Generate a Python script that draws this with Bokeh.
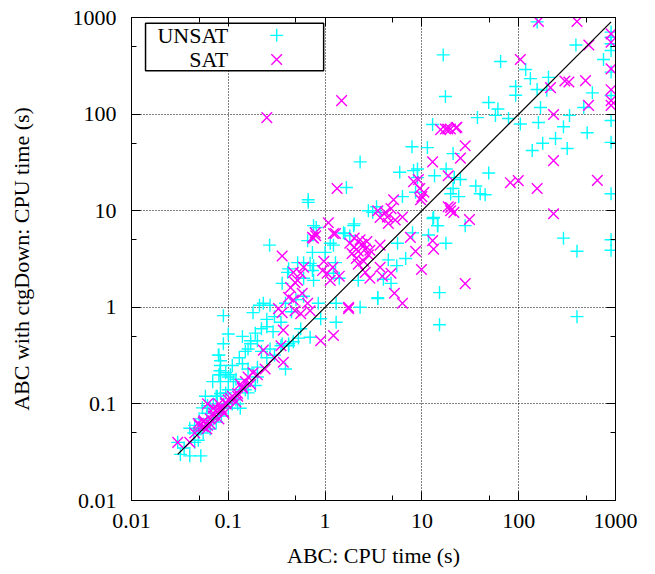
import math
from bokeh.plotting import figure
from bokeh.models import FixedTicker, PrintfTickFormatter, LogAxis
from bokeh.core.properties import value
from bokeh.embed import file_html
from bokeh.resources import INLINE

# ---------------- data ----------------
unsat = [
    (155, 900), (390, 520), (16.6, 410), (65, 350), (118, 290), (132, 233), (203, 240), (155, 180),
    (195, 177), (93, 193), (93, 157), (577, 166), (17.5, 152), (49, 132), (470, 117), (168, 117),
    (61, 113), (335, 97), (37.5, 92), (57.5, 97), (78.5, 90), (104, 79), (160, 82), (290, 74),
    (510, 64), (12.9, 78), (7.9, 46), (11.4, 45), (138, 42), (177, 50), (240, 56), (317, 44),
    (5.9, 25), (8.2, 26), (49, 24.6), (40, 15), (45, 14.6), (36, 18), (752, 367),
    (900, 706), (900, 625), (900, 534), (900, 455), (900, 272), (900, 156), (900, 86), (900, 51),
    (900, 15), (900, 5.0), (900, 3.9),
    (2.3, 32), (9.0, 27), (9.0, 22), (13.5, 23), (17.8, 27), (21.6, 22), (21, 39), (25, 21),
    (1.66, 17.4), (8.6, 15.5), (6.3, 14), (19.8, 15), (21, 17), (24, 14), (13.2, 8.5), (14.5, 7),
    (11.7, 5.6), (17.7, 4.6), (8.0, 5.9), (2.8, 10), (1.97, 7), (1.55, 5.9), (3.4, 11), (28, 7),
    (13, 8.3), (14.6, 7), (290, 5.2), (400, 3.8), (400, 0.8), (15.2, 1.42), (15.2, 0.66),
    (3.5, 1.26), (4.8, 1.77), (4.0, 1.95), (6.8, 3.2), (5.5, 2.7), (4.5, 3.1), (5.6, 4.6),
    (0.267, 4.4), (0.66, 4.9), (1.6, 5.8), (1.8, 5.5), (1.13, 4.6), (1.22, 4.4), (0.74, 3.7),
    (0.6, 2.9), (0.7, 2.85), (0.42, 2.5), (0.36, 1.77), (0.23, 1.1), (0.27, 1.05), (0.18, 0.88),
    (0.85, 1.1), (0.9, 0.76), (1.3, 0.7), (0.7, 0.49), (0.56, 0.6), (0.53, 0.48), (0.17, 0.45),
    (0.16, 0.37), (0.19, 0.54), (0.22, 0.6), (0.25, 0.63), (0.29, 0.56), (0.36, 0.42), (0.42, 0.4),
    (0.47, 0.44), (2.2, 1.9), (1.3, 1.1), (0.67, 13), (0.67, 12.2), (0.76, 7), (0.81, 6.7),
    (2.0, 7.3), (3.1, 9.6), (3.7, 9.6), (3.5, 1.23), (2.3, 1.0), (1.0, 3.7), (0.76, 2.7),
    (0.74, 2.4), (0.6, 2.0), (0.76, 1.9), (1.22, 2.25), (1.4, 2.0), (1.28, 2.9), (0.39, 1.1),
    (0.41, 2.3), (0.52, 2.9),
    (0.089, 0.42), (0.17, 0.42), (0.079, 0.32), (0.083, 0.25), (0.082, 0.22), (0.08, 0.2),
    (0.083, 0.17), (0.069, 0.17), (0.094, 0.21), (0.105, 0.2), (0.113, 0.17), (0.14, 0.26),
    (0.16, 0.23), (0.35, 0.4), (0.42, 0.42), (0.39, 0.23), (0.16, 0.13), (0.032, 0.03),
    (0.04, 0.029), (0.049, 0.042), (0.04, 0.056), (0.049, 0.053), (0.058, 0.12), (0.089, 0.82),
    (0.1, 0.53), (0.08, 0.32), (0.083, 0.28),
    (0.035, 0.035), (0.045, 0.04), (0.05, 0.055), (0.055, 0.05), (0.06, 0.06), (0.065, 0.055),
    (0.07, 0.07), (0.075, 0.065), (0.08, 0.08), (0.085, 0.075), (0.09, 0.1), (0.1, 0.09),
    (0.11, 0.1), (0.12, 0.11), (0.13, 0.14), (0.15, 0.14), (0.06, 0.08), (0.045, 0.06),
    (0.05, 0.07), (0.065, 0.09), (0.07, 0.1), (0.075, 0.12), (0.1, 0.14), (0.12, 0.18),
    (0.2, 0.24), (0.25, 0.3), (0.3, 0.32), (0.22, 0.35), (0.27, 0.37), (0.13, 0.3), (0.11, 0.25),
    (0.21, 1.05), (0.3, 0.8), (0.35, 0.7), (0.25, 0.75), (0.45, 0.9), (0.5, 1.2), (0.6, 1.3),
    (0.15, 0.35), (0.2, 0.45), (0.14, 0.5),
    (0.03, 0.04), (0.052, 0.029), (0.044, 0.05), (0.052, 0.055), (0.061, 0.096), (0.054, 0.091),
    (0.077, 0.12), (0.083, 0.128), (0.094, 0.13), (0.125, 0.1), (0.133, 0.09), (0.083, 0.2),
    (0.1, 0.19), (0.19, 0.155), (0.2, 0.19),
]

sat = [
    (160, 910), (400, 910), (900, 677), (900, 555), (900, 294), (900, 179), (900, 138), (900, 123),
    (530, 520), (104, 367), (213, 188), (300, 220), (330, 215), (490, 222), (527, 123), (229, 99),
    (15.6, 69), (17.5, 70), (19.7, 70), (22.5, 72), (229, 33), (650, 20.6), (155, 17), (82, 19.5),
    (99, 20.5), (0.25, 92), (1.48, 138),
    (18.5, 70), (23, 73), (12.9, 32), (8.2, 20), (9.2, 21), (18.7, 23), (25, 35), (28, 47),
    (9.5, 17), (10.5, 15.5), (10, 14), (9.7, 13), (5.1, 13), (4.8, 10.5), (4.4, 8.6), (5.3, 8.0),
    (6.3, 8.6), (19.8, 10.8), (21.4, 9.6), (3.5, 10), (19.8, 10), (18.7, 11), (31, 8.1),
    (12.9, 4.9), (13.2, 4.0), (229, 9.3), (28, 1.76), (9.9, 2.46), (6.3, 1.1), (5.2, 1.4),
    (4.8, 2.25), (3.9, 2.1), (8.6, 3.8), (7.6, 5.3), (3.7, 4.4),
    (0.36, 3.4), (0.8, 5.5), (0.74, 5.3), (1.28, 5.8), (1.33, 17), (1.08, 7.5), (1.22, 5.8),
    (0.79, 5.9), (0.76, 5.2),
    (1.8, 4.6), (2.0, 4.2), (2.2, 3.8), (2.4, 4.5), (2.6, 4.0), (2.8, 3.5), (2.1, 3.2), (2.5, 3.0),
    (1.9, 3.6), (2.3, 5.0), (2.7, 4.8), (2.9, 3.9), (2.0, 5.2),
    (3.7, 8.5), (4.2, 9.6), (4.5, 7.4), (3.7, 2.6), (1.75, 1.0), (1.22, 0.51), (0.9, 0.45),
    (0.94, 2.4), (1.05, 2.25), (1.13, 1.9), (0.97, 3.0), (0.56, 2.25), (0.44, 1.6), (0.49, 1.8),
    (0.52, 1.9), (0.58, 1.4), (0.6, 2.6), (0.47, 2.3), (0.42, 1.27), (0.47, 1.19), (0.33, 0.97),
    (0.36, 0.88), (0.49, 0.92), (0.56, 0.86), (0.66, 1.1), (0.7, 0.92), (1.75, 0.97), (0.37, 0.58),
    (2.2, 2.8), (2.6, 2.3), (2.9, 2.0), (1.2, 2.6), (1.4, 2.1),
    (0.23, 0.36), (0.15, 0.17), (0.24, 0.23), (0.37, 0.27), (0.125, 0.12), (0.03, 0.04),
    (0.04, 0.04), (0.061, 0.1),
    (0.045, 0.05), (0.05, 0.06), (0.055, 0.065), (0.06, 0.055), (0.065, 0.07), (0.07, 0.075),
    (0.075, 0.085), (0.08, 0.07), (0.085, 0.09), (0.09, 0.08), (0.095, 0.1), (0.1, 0.11),
    (0.11, 0.12), (0.12, 0.105), (0.14, 0.15), (0.17, 0.16), (0.2, 0.2), (0.07, 0.09),
    (0.08, 0.1), (0.055, 0.058), (0.065, 0.062), (0.3, 0.3), (0.35, 0.4),
    (0.049, 0.063), (0.056, 0.067), (0.061, 0.06), (0.07, 0.08), (0.077, 0.089), (0.087, 0.085),
    (0.094, 0.103), (0.105, 0.114), (0.125, 0.128), (0.14, 0.145), (0.133, 0.16), (0.16, 0.19),
    (0.18, 0.21),
]

diag = [0.03, 900]
major_ticks = [0.01, 0.1, 1, 10, 100, 1000]
minor_ticks = [0.05, 0.5, 5, 50, 500]
series_names = ["UNSAT", "SAT"]
x_title = "ABC: CPU time (s)"
y_title = "ABC with ctgDown: CPU time (s)"

unsat_x = [a for a, b in unsat]
unsat_y = [b for a, b in unsat]
sat_x = [a for a, b in sat]
sat_y = [b for a, b in sat]

# ---------------- figure ----------------
XMIN, XMAX, YMIN, YMAX = 0.01, 1000, 0.01, 1000
FONT = "Liberation Serif"
FS = "22px"
CYAN = "#00ffff"
MAGENTA = "#ff00ff"
PLUS_SIZE, X_SIZE, MLW = 13, 15, 1.4

p = figure(width=655, height=574, x_axis_type="log", y_axis_type="log",
           x_range=(XMIN, XMAX), y_range=(YMIN, YMAX),
           output_backend="svg", toolbar_location=None,
           min_border_left=131, min_border_right=40, min_border_top=17, min_border_bottom=74)
p.background_fill_color = "white"
p.border_fill_color = "white"
p.outline_line_color = "black"
p.outline_line_width = 1

ticker = FixedTicker(ticks=major_ticks, minor_ticks=minor_ticks)

def style_axis(ax, labels=True):
    ax.ticker = ticker
    ax.formatter = PrintfTickFormatter(format="%g")
    ax.axis_line_color = "black"
    ax.major_tick_in = 9
    ax.major_tick_out = 0
    ax.minor_tick_in = 5
    ax.minor_tick_out = 0
    ax.major_tick_line_color = "black"
    ax.minor_tick_line_color = "black"
    ax.major_label_text_font = FONT
    ax.major_label_text_font_size = FS
    ax.major_label_text_color = "black" if labels else None
    ax.axis_label_text_font = FONT
    ax.axis_label_text_font_size = FS
    ax.axis_label_text_font_style = "normal"
    ax.axis_label_text_color = "black"

for ax in p.xaxis:
    style_axis(ax)
    ax.axis_label = x_title
    ax.major_label_standoff = 13
    ax.axis_label_standoff = 12
for ax in p.yaxis:
    style_axis(ax)
    ax.axis_label = y_title
    ax.major_label_standoff = 15
    ax.axis_label_standoff = 36

top_ax = LogAxis()
style_axis(top_ax, labels=False)
right_ax = LogAxis()
style_axis(right_ax, labels=False)
p.add_layout(top_ax, "above")
p.add_layout(right_ax, "right")

for g in (p.xgrid, p.ygrid):
    g.ticker = ticker
    g.grid_line_color = "black"
    g.grid_line_dash = "1 2"
    g.grid_line_width = 1

# data
p.scatter(unsat_x, unsat_y, marker="cross", size=PLUS_SIZE, line_color=CYAN, line_width=MLW)
p.scatter(sat_x, sat_y, marker="x", size=X_SIZE, line_color=MAGENTA, line_width=MLW)
p.line(diag, diag, line_color="black", line_width=1.2)

# legend (gnuplot style: right-aligned text, then symbol), placed by frame fractions
def fx(f):
    return 10 ** (math.log10(XMIN) + f * (math.log10(XMAX) - math.log10(XMIN)))

def fy(f):
    return 10 ** (math.log10(YMIN) + f * (math.log10(YMAX) - math.log10(YMIN)))

p.quad(left=[fx(0.029)], right=[fx(0.397)], bottom=[fy(0.89)], top=[fy(0.988)],
       fill_color="white", line_color="black", line_width=1.5)
rows = [fy(0.963), fy(0.913)]
p.text(x=[fx(0.2), fx(0.2)], y=rows, text=series_names, text_align="right",
       text_baseline="middle", text_font=value(FONT), text_font_size=FS, text_color="black")
p.scatter([fx(0.3)], [rows[0]], marker="cross", size=PLUS_SIZE, line_color=CYAN, line_width=MLW)
p.scatter([fx(0.3)], [rows[1]], marker="x", size=X_SIZE, line_color=MAGENTA, line_width=MLW)

open("out.html", "w").write(file_html(p, INLINE))
